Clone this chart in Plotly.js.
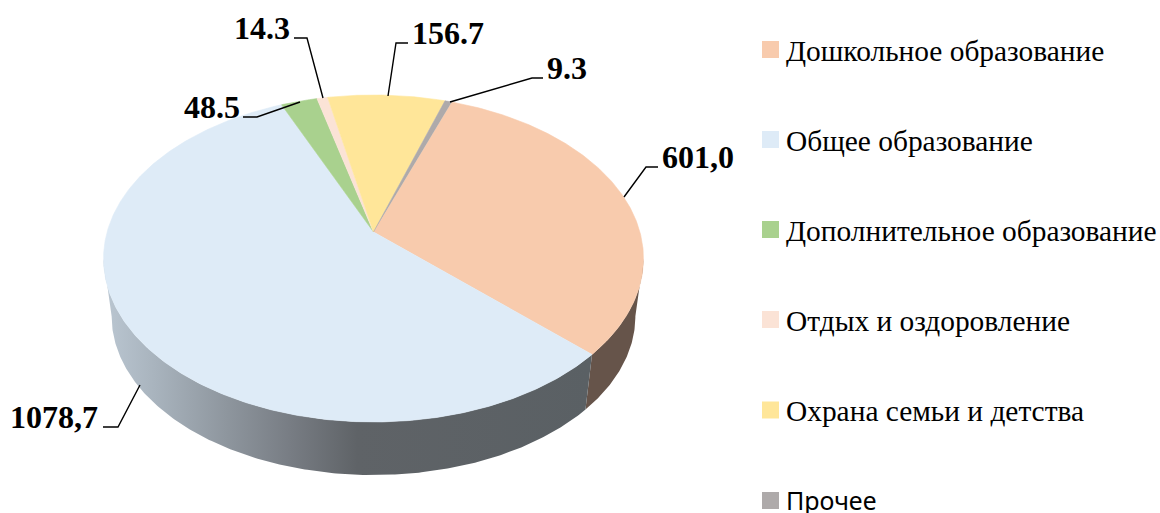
<!DOCTYPE html>
<html><head><meta charset="utf-8">
<script src="https://cdn.plot.ly/plotly-3.0.1.min.js"></script>
<style>html,body{margin:0;padding:0;background:#fff}#c{width:1160px;height:513px}</style>
</head><body><div id="c"></div>
<script>
const categories = ["Дошкольное образование","Общее образование","Дополнительное образование","Отдых и оздоровление","Охрана семьи и детства","Прочее"];
const values = [601.0,1078.7,48.5,14.3,156.7,9.3];
const valueLabels = ["601,0","1078,7","48.5","14.3","156.7","9.3"];
const colors = ["#F8CBAD","#DEEBF7","#A9D18E","#FBE3D6","#FFE699","#AEAAAA"];
const legendFonts = ["Liberation Serif","Liberation Serif","Liberation Serif","Liberation Serif","Liberation Serif","Noto Sans"];
const legendSizes = [29.4,29.4,29.4,29.4,29.4,25];
const legendRows = [49.5,139.5,229.5,319.5,410,500.5];
const legendTextShift = [1,1,1,1,1,-1];

// Pie projection (a tilted disc with perspective)
const W=1160,H=513,CX=373.5,CY=232,A=266.4,B=159.2,K=0.162;
const START=19.8, BOT_S=0.97, BOT_DY=-0.369;
const pxX=p=>(p-CX)/A, pxY=p=>(CY-p)/B;
function topPt(deg){const t=deg*Math.PI/180,u=Math.sin(t),v=Math.cos(t),d=1+K*v;return [u/d,v/d];}
function botPt(deg){const p=topPt(deg);return [p[0]*BOT_S,p[1]*BOT_S+BOT_DY];}
function arc(fn,a,b){const out=[],n=Math.max(2,Math.ceil(Math.abs(b-a)*2));for(let i=0;i<=n;i++)out.push(fn(a+(b-a)*i/n));return out;}

const total=values.reduce((s,v)=>s+v,0);
let acc=START;
const spans=values.map(v=>{const a=acc;acc+=v/total*360;return [a,acc];});

const traces=[];
function poly(pts,extra){traces.push(Object.assign({type:"scatter",mode:"lines",x:pts.map(p=>p[0]),y:pts.map(p=>p[1]),fill:"toself",line:{width:0},hoverinfo:"skip",showlegend:false},extra));}

// side wall: visible only between the two silhouette points
const RIGHT=99.3, LEFT=260.7;
const seam=spans[0][1];
poly(arc(topPt,RIGHT,seam).concat(arc(botPt,seam,RIGHT)),{fillcolor:"#66544A"});
poly(arc(topPt,seam,LEFT).concat(arc(botPt,LEFT,seam)),{fillcolor:"#5C6064",
  fillgradient:{type:"horizontal",start:pxX(105),stop:pxX(590),
    colorscale:[[0,"#BAC6D1"],[0.1,"#A9B4BE"],[0.25,"#8E969E"],[0.38,"#787D84"],[0.52,"#5F6367"],[1,"#5A6064"]]}});

// top face
spans.forEach((s,i)=>{poly([[0,0]].concat(arc(topPt,s[0],s[1])),{fillcolor:colors[i],name:categories[i],line:{width:0.6,color:colors[i]}});});

// leader lines (pixel anchors in the picture)
const leaders=[
 [[624,197],[646,167],[658,167]],
 [[140,385],[118,427],[103,427]],
 [[300,102],[257,117],[243,117]],
 [[323,98],[307,38],[294,38]],
 [[388,96],[396,43],[408,43]],
 [[450,102],[532,78],[543,78]]];
leaders.forEach(l=>traces.push({type:"scatter",mode:"lines",x:l.map(p=>pxX(p[0])),y:l.map(p=>pxY(p[1])),line:{color:"#000",width:1.4},hoverinfo:"skip",showlegend:false}));

// legend swatches
categories.forEach((c,i)=>traces.push({type:"scatter",mode:"markers",x:[pxX(770.5)],y:[pxY(legendRows[i])],name:c,
  marker:{symbol:"square",size:17,color:colors[i]},hoverinfo:"skip",showlegend:false}));

const labelPos=[[661,157,"left"],[99,417,"right"],[241,107,"right"],[291,28,"right"],[411,33,"left"],[546,68,"left"]];
const annotations=valueLabels.map((t,i)=>({text:"<b>"+t+"</b>",x:pxX(labelPos[i][0]),y:pxY(labelPos[i][1]),xref:"x",yref:"y",
  xanchor:labelPos[i][2],yanchor:"middle",showarrow:false,borderpad:0,
  font:{family:"Liberation Serif",size:32,color:"#000"}}));
categories.forEach((c,i)=>annotations.push({text:c,x:pxX(784.5),y:pxY(legendRows[i]+legendTextShift[i]),xref:"x",yref:"y",
  xanchor:"left",yanchor:"middle",showarrow:false,borderpad:0,
  font:{family:legendFonts[i],size:legendSizes[i],color:"#000"}}));

Plotly.newPlot("c",traces,{
  width:W,height:H,margin:{l:0,r:0,t:0,b:0,pad:0},paper_bgcolor:"#fff",plot_bgcolor:"#fff",
  xaxis:{range:[pxX(0),pxX(W)],visible:false,fixedrange:true},
  yaxis:{range:[pxY(H),pxY(0)],visible:false,fixedrange:true},
  showlegend:false,
  annotations
},{displayModeBar:false,staticPlot:true});
</script></body></html>
